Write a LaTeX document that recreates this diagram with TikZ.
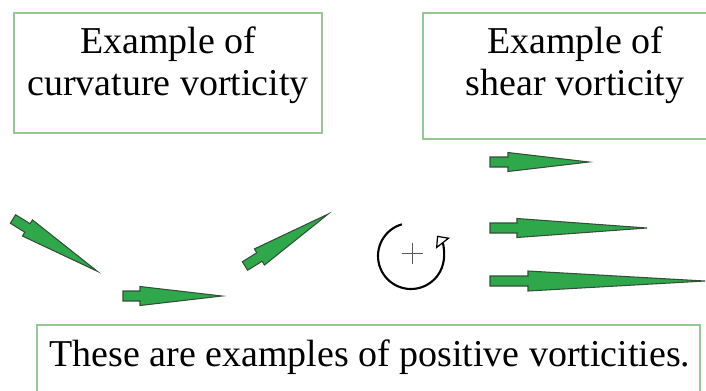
\documentclass[tikz,border=0pt]{standalone}
\usepackage{fontspec}
\setmainfont{Liberation Serif}
\usepackage{tikz}
\usetikzlibrary{arrows.meta,positioning,calc}
\usepackage{xcolor}

\definecolor{windgreen}{RGB}{46,168,74}
\definecolor{windedge}{RGB}{52,78,56}
\definecolor{boxline}{RGB}{150,200,150}

\tikzset{
  panel/.style={draw=boxline, line width=0.6pt, inner sep=0pt},
  caption/.style={align=center, inner sep=0pt, font=\fontsize{21.6}{24}\selectfont},
  windarrow/.style={fill=windgreen, draw=windedge, line width=0.6pt, line join=miter},
}

\begin{document}
\begin{tikzpicture}[x=0.02cm, y=-0.02cm, >=Stealth]
  \useasboundingbox (0,0) rectangle (706,390);

  % ---- the three framed captions ----
  \node[panel, minimum width=308*0.02cm, minimum height=120*0.02cm] (curvbox) at (168,73) {};
  \node[caption] (curvtext) at (168,65) {Example of\\curvature vorticity};

  \node[panel, minimum width=304*0.02cm, minimum height=126*0.02cm] (shearbox) at (575,76) {};
  \node[caption] (sheartext) at (575,65) {Example of\\shear vorticity};

  \node[panel, minimum width=663*0.02cm, minimum height=70*0.02cm] (notebox) at (368.5,360) {};
  \node[caption] (notetext) at (370,357) {These are examples of positive vorticities.};

  % ---- curvature: the flow bends round a trough ----
  \begin{scope}[shift={(13,219)}, rotate=-31.8]
    \filldraw[windarrow] (0,-5) -- (17,-5) -- (17,-9.5) -- (99,0) -- (17,9.5) -- (17,5) -- (0,5) -- cycle;
  \end{scope}
  \begin{scope}[shift={(123,296)}]
    \filldraw[windarrow] (0,-5) -- (17,-5) -- (17,-9.5) -- (99,0) -- (17,9.5) -- (17,5) -- (0,5) -- cycle;
  \end{scope}
  \begin{scope}[shift={(245,266)}, rotate=32]
    \filldraw[windarrow] (0,-5) -- (17,-5) -- (17,-9.5) -- (98,0) -- (17,9.5) -- (17,5) -- (0,5) -- cycle;
  \end{scope}

  % ---- the sense of rotation ----
  \draw[line width=1.2pt, -{Triangle[open, length=5.5pt, width=10pt, line width=0.7pt]}]
    (411,256) ++(106:0.66cm) arc[start angle=106, end angle=398, radius=0.66cm];
  \draw[gray!70!black, line width=0.5pt] (401.5,253) -- (422.5,253);
  \draw[gray!70!black, line width=0.5pt] (412,242.5) -- (412,263.5);

  % ---- shear: speed grows southward ----
  \begin{scope}[shift={(490,162)}]
    \filldraw[windarrow] (0,-5) -- (18,-5) -- (18,-9.5) -- (99,0) -- (18,9.5) -- (18,5) -- (0,5) -- cycle;
  \end{scope}
  \begin{scope}[shift={(490,228)}]
    \filldraw[windarrow] (0,-5) -- (27,-5) -- (27,-9.5) -- (157,0) -- (27,9.5) -- (27,5) -- (0,5) -- cycle;
  \end{scope}
  \begin{scope}[shift={(490,281)}]
    \filldraw[windarrow] (0,-5) -- (38,-5) -- (38,-10) -- (215,0) -- (38,10) -- (38,5) -- (0,5) -- cycle;
  \end{scope}

\end{tikzpicture}
\end{document}
